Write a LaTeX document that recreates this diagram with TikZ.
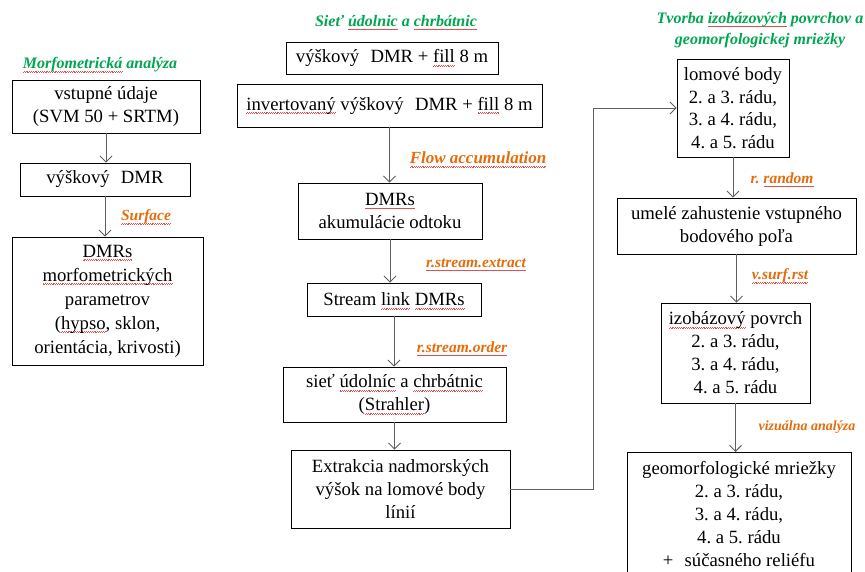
\documentclass[tikz,border=0pt]{standalone}
\usepackage{fontspec}
\setmainfont{Liberation Serif}
\usetikzlibrary{arrows.meta}
\definecolor{ttlgreen}{RGB}{0,166,80}
\definecolor{lblorange}{RGB}{228,108,10}
\definecolor{arrgray}{RGB}{95,95,95}
\definecolor{squig}{RGB}{225,80,80}
\newsavebox\wavebox
\newsavebox\sqword
\sbox\wavebox{\color{squig}\rule[0pt]{0.9pt}{0.45pt}\rule[0.6pt]{0.9pt}{0.45pt}}
\newcommand\sq[1]{\sbox\sqword{#1}\rlap{\raisebox{-3.4pt}[0pt][0pt]{\hbox to \wd\sqword{\xleaders\copy\wavebox\hfill}}}\usebox\sqword}
\begin{document}
\frenchspacing
\begin{tikzpicture}[x=1pt,y=-1pt,
  box/.style={draw=black, line width=0.8pt, fill=white, align=center, inner sep=0pt,
    font=\fontsize{18.7}{23}\selectfont},
  arr/.style={draw=arrgray, line width=0.9pt, -{Straight Barb[length=6pt,width=12pt]}},
  ttl/.style={text=ttlgreen, font=\fontsize{16}{21}\selectfont\bfseries\itshape, align=center},
  lbl/.style={text=lblorange, font=\fontsize{15.5}{18}\selectfont\bfseries\itshape}]
\useasboundingbox (0,0) rectangle (865,571);
\clip (0,0) rectangle (865,571);

% titles
\node[ttl] (t1) at (100,65) {\sq{Morfometrická} analýza};
\node[ttl] (t2) at (396,21) {Sieť \sq{údolnic} a \sq{chrbátnic}};
\node[ttl] (t3) at (760,30) {Tvorba \sq{izobázových} povrchov a\\geomorfologickej mriežky};

% left column
\node[box, minimum width=188pt, minimum height=53pt] (L1) at (106,106.5) {vstupné údaje\\(SVM 50 + SRTM)};
\node[box, minimum width=170pt, minimum height=33pt] (L2) at (105,179.5) {výškový\hspace{0.6em}DMR};
\node[box, minimum width=191pt, minimum height=128pt, font=\fontsize{18.7}{24}\selectfont] (L3) at (107.5,301)
  {\sq{DMRs}\\\sq{morfometrických}\\parametrov\\(\sq{hypso}, sklon,\\orientácia, krivosti)};

% middle column
\node[box, minimum width=212pt, minimum height=32pt] (M1) at (392,58) {výškový\hspace{0.6em}DMR + \sq{fill} 8 m};
\node[box, minimum width=305pt, minimum height=43pt] (M2) at (389.5,105.5) {\sq{invertovaný} výškový\hspace{0.6em}DMR + \sq{fill} 8 m};
\node[box, minimum width=184pt, minimum height=56pt] (M3) at (390,211) {\sq{DMRs}\\akumulácie odtoku};
\node[box, minimum width=174pt, minimum height=33pt] (M4) at (394,299.5) {Stream \sq{link} \sq{DMRs}};
\node[box, minimum width=223pt, minimum height=55pt] (M5) at (394.5,394.5) {sieť \sq{údolníc} a \sq{chrbátnic}\\(\sq{Strahler})};
\node[box, minimum width=219pt, minimum height=78pt] (M6) at (400.5,489) {Extrakcia nadmorských\\výšok na lomové body\\línií};

% right column
\node[box, minimum width=112pt, minimum height=98pt, font=\fontsize{18.7}{22.5}\selectfont] (R1) at (733,108) {lomové body\\2. a 3. rádu,\\3. a 4. rádu,\\4. a 5. rádu};
\node[box, minimum width=239pt, minimum height=56pt] (R2) at (736.5,226) {umelé zahustenie vstupného\\bodového poľa};
\node[box, minimum width=149pt, minimum height=100pt] (R3) at (735.5,353) {\sq{izobázový} povrch\\2. a 3. rádu,\\3. a 4. rádu,\\4. a 5. rádu};
\node[box, anchor=north, minimum width=224pt, inner ysep=9pt] (R4) at (739,452)
  {geomorfologické mriežky\\2. a 3. rádu,\\3. a 4. rádu,\\4. a 5. rádu\\+\hspace{0.6em}súčasného reliéfu};

% labels
\node[lbl] (lSurf) at (146,217) {\sq{Surface}};
\node[lbl, font=\fontsize{17}{20}\selectfont\bfseries\itshape] (lFlow) at (478,158) {\sq{Flow accumulation}};
\node[lbl] (lExt) at (476,263) {\sq{r.stream.extract}};
\node[lbl] (lOrd) at (462,347) {\sq{r.stream.order}};
\node[lbl] (lRand) at (782,178) {r. \sq{random}};
\node[lbl] (lSurf2) at (780,276) {\sq{v.surf.rst}};
\node[lbl, font=\fontsize{14}{17}\selectfont\bfseries\itshape] (lViz) at (807,427) {vizuálna analýza};

% connectors
\draw[arr] (L1.south) -- (L1.south |- L2.north);
\draw[arr] (L2.south) -- (L2.south |- L3.north);
\draw[arr] (M2.south) -- (M2.south |- M3.north);
\draw[arr] (M3.south) -- (M3.south |- M4.north);
\draw[arr] (M4.south) -- (M4.south |- M5.north);
\draw[arr] (M5.south) -- (M5.south |- M6.north);
\coordinate (bend) at (593,108);
\draw[arr] (M6.east) -| (bend) -- (R1.west);
\draw[arr] (R1.south) -- (R1.south |- R2.north);
\draw[arr] (R2.south) -- (R2.south |- R3.north);
\draw[arr] (R3.south) -- (R3.south |- R4.north);
\end{tikzpicture}
\end{document}
